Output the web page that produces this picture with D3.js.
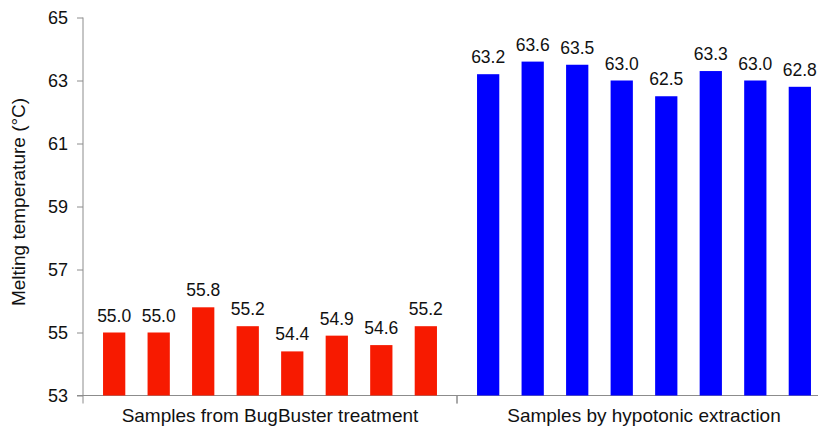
<!DOCTYPE html>
<html>
<head>
<meta charset="utf-8">
<script src="https://cdn.jsdelivr.net/npm/d3@7"></script>
<style>
  body { margin: 0; background: #fff; }
  text { font-family: "Liberation Sans", Arial, sans-serif; fill: #111; }
</style>
</head>
<body>
<div id="chart"></div>
<script>
// data
const groups = ["Samples from BugBuster treatment", "Samples by hypotonic extraction"];
const samples = [1, 2, 3, 4, 5, 6, 7, 8];
const bugBusterValues = [55.0, 55.0, 55.8, 55.2, 54.4, 54.9, 54.6, 55.2];
const hypotonicValues = [63.2, 63.6, 63.5, 63.0, 62.5, 63.3, 63.0, 62.8];
const groupColors = ["#f71a00", "#0000ff"];
const yTicks = [53, 55, 57, 59, 61, 63, 65];

const width = 818, height = 427;
const margin = { top: 17.5, left: 83, bottom: 31.5 };

const svg = d3.select('#chart').append('svg')
    .attr('width', width)
    .attr('height', height);

const yScale = d3.scaleLinear()
    .domain([53, 65])
    .range([height - margin.bottom, margin.top]);

// each group gets half of a plot that runs past the right edge
const groupScale = d3.scaleBand()
    .domain(groups)
    .range([margin.left, margin.left + 2 * 374]);

const barScale = d3.scaleBand()
    .domain(samples)
    .range([0, groupScale.bandwidth()])
    .paddingInner(0.5)
    .paddingOuter(0.45);

const data = [bugBusterValues, hypotonicValues].map((vals, gi) =>
    vals.map((v, i) => ({ group: groups[gi], sample: samples[i], value: v, color: groupColors[gi] })));

// y axis
const yAxis = d3.axisLeft(yScale)
    .tickValues(yTicks)
    .tickSize(6)
    .tickPadding(9)
    .tickFormat(d3.format('d'));

const yAxisG = svg.append('g')
    .attr('transform', `translate(${margin.left},0)`)
    .call(yAxis);
yAxisG.select('.domain').attr('stroke', '#8c8c8c').attr('d', `M0,${yScale(65)}V${yScale(53)}`);
yAxisG.selectAll('.tick line').attr('stroke', '#8c8c8c');
yAxisG.selectAll('.tick text').attr('font-size', 18).attr('fill', '#111')
    .style('font-family', '"Liberation Sans", Arial, sans-serif');

// x axis: baseline plus group boundary ticks
const baseY = yScale(53);
svg.append('line')
    .attr('x1', margin.left - 6).attr('x2', width)
    .attr('y1', baseY).attr('y2', baseY)
    .attr('stroke', '#8c8c8c');

svg.selectAll('.group-tick')
    .data(groups)
    .join('line')
    .attr('class', 'group-tick')
    .attr('x1', d => groupScale(d)).attr('x2', d => groupScale(d))
    .attr('y1', baseY).attr('y2', baseY + 8)
    .attr('stroke', '#8c8c8c');
svg.append('line')
    .attr('x1', groupScale(groups[0]) + groupScale.bandwidth())
    .attr('x2', groupScale(groups[0]) + groupScale.bandwidth())
    .attr('y1', baseY).attr('y2', baseY + 8)
    .attr('stroke', '#8c8c8c');

svg.selectAll('.group-label')
    .data(groups)
    .join('text')
    .attr('class', 'group-label')
    .attr('x', d => groupScale(d) + groupScale.bandwidth() / 2)
    .attr('y', baseY + 26)
    .attr('text-anchor', 'middle')
    .attr('font-size', 19)
    .text(d => d);

// bars
const groupG = svg.selectAll('.group')
    .data(data)
    .join('g')
    .attr('class', 'group')
    .attr('transform', d => `translate(${groupScale(d[0].group)},0)`);

groupG.selectAll('rect')
    .data(d => d)
    .join('rect')
    .attr('x', d => barScale(d.sample))
    .attr('width', barScale.bandwidth())
    .attr('y', d => yScale(d.value))
    .attr('height', d => baseY - yScale(d.value))
    .attr('fill', d => d.color);

groupG.selectAll('.value-label')
    .data(d => d)
    .join('text')
    .attr('class', 'value-label')
    .attr('x', d => barScale(d.sample) + barScale.bandwidth() / 2)
    .attr('y', d => yScale(d.value) - 11)
    .attr('text-anchor', 'middle')
    .attr('font-size', 17.5)
    .text(d => d3.format('.1f')(d.value));

// y axis title
svg.append('text')
    .attr('transform', `translate(24.5,202) rotate(-90)`)
    .attr('text-anchor', 'middle')
    .attr('font-size', 19)
    .text('Melting temperature (°C)');
</script>
</body>
</html>
